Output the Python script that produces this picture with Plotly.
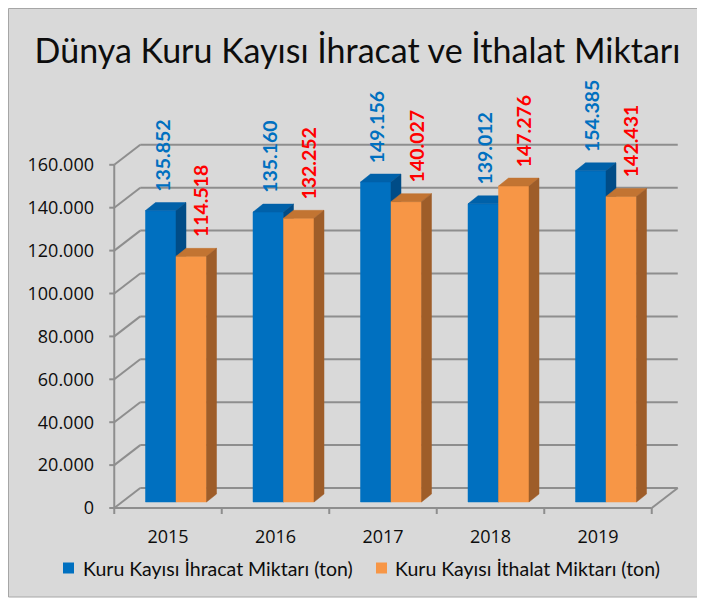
import plotly.graph_objects as go

# ---------------- data ----------------
years = ["2015", "2016", "2017", "2018", "2019"]
ihracat = [135852, 135160, 149156, 139012, 154385]
ithalat = [114518, 132252, 140027, 147276, 142431]
ihracat_labels = ["135.852", "135.160", "149.156", "139.012", "154.385"]
ithalat_labels = ["114.518", "132.252", "140.027", "147.276", "142.431"]
ytick_vals = [0, 20000, 40000, 60000, 80000, 100000, 120000, 140000, 160000]
ytick_text = ["0", "20.000", "40.000", "60.000", "80.000", "100.000", "120.000", "140.000", "160.000"]
series_names = ["Kuru Kayısı İhracat Miktarı (ton)", "Kuru Kayısı İthalat Miktarı (ton)"]
title_text = "Dünya Kuru Kayısı İhracat ve İthalat Miktarı"

# ---------------- pseudo-3D geometry (pixel -> data unit factors) ----------------
CAT_PX = 107.5            # pixels per category
VAL_PX = 42.9 / 20000     # pixels per value unit
UX = 1.0 / CAT_PX         # x units per pixel
UY = 1.0 / VAL_PX         # value units per pixel

FLOOR_DX, FLOOR_DY = 26 * UX, 20 * UY     # depth of the floor / side wall
BAR_X0, BAR_Y0 = 8 * UX, 6 * UY           # bars sit part way into the depth
BAR_W = 30.5 * UX
BAR_DX, BAR_DY = 10 * UX, 8 * UY          # bar depth
XMIN, XMAX = -0.5, len(years) - 0.5
YMAX = ytick_vals[-1]

# plot area in figure pixels (page adds ~8px body margin)
L, R, T, B = 92, 680, 90, 508
W, H = 705, 603
X_FRONT_PX = 160   # pixel of category 0
Y_ZERO_PX = 500    # pixel of value 0 on front plane
xrange = [(L - X_FRONT_PX) * UX, (R - X_FRONT_PX) * UX]
yrange = [(Y_ZERO_PX - B) * UY, (Y_ZERO_PX - T) * UY]

GRID = "#8E8E8E"
FONT = "Lato"
NUMFONT = "Open Sans"
TXT = "#0D0D0D"
SERIES_COLORS = ["#0070C0", "#F79646"]

fig = go.Figure()

# ---------------- walls / gridlines ----------------
gx, gy = [], []
def seg(x0, y0, x1, y1):
    gx.extend([x0, x1, None])
    gy.extend([y0, y1, None])

for v in ytick_vals:
    seg(XMIN + FLOOR_DX, v + FLOOR_DY, XMAX + FLOOR_DX, v + FLOOR_DY)   # back wall
    seg(XMIN, v, XMIN + FLOOR_DX, v + FLOOR_DY)                          # side wall diagonal
    seg(XMIN - 5 * UX, v, XMIN, v)                                       # y tick mark
seg(XMIN, 0, XMIN, YMAX)                       # front vertical axis
seg(XMIN, 0, XMAX, 0)                          # front floor edge
seg(XMAX, 0, XMAX + FLOOR_DX, FLOOR_DY)        # right floor edge
for k in range(len(years) + 1):
    b = XMIN + k
    seg(b, 0, b, -6 * UY)                      # category boundary ticks

fig.add_trace(go.Scatter(x=gx, y=gy, mode="lines", line=dict(color=GRID, width=2),
                         showlegend=False, hoverinfo="skip"))

# ---------------- bars ----------------
def faces(values, left_shift):
    fx, fy, tx, ty, sx, sy = [], [], [], [], [], []
    for i, v in enumerate(values):
        x0 = i + BAR_X0 + left_shift
        x1 = x0 + BAR_W
        y0 = BAR_Y0
        y1 = BAR_Y0 + v
        fx += [x0, x1, x1, x0, x0, None]
        fy += [y0, y0, y1, y1, y0, None]
        tx += [x0, x1, x1 + BAR_DX, x0 + BAR_DX, x0, None]
        ty += [y1, y1, y1 + BAR_DY, y1 + BAR_DY, y1, None]
        sx += [x1, x1 + BAR_DX, x1 + BAR_DX, x1, x1, None]
        sy += [y0, y0 + BAR_DY, y1 + BAR_DY, y1, y0, None]
    return (fx, fy), (tx, ty), (sx, sy)

series = [
    (ihracat, -BAR_W, ["#0070C0", "#0061A9", "#004C87"]),
    (ithalat, 0.0, ["#F79646", "#C27432", "#9E5D29"]),
]
for (values, shift, cols), name in zip(series, series_names):
    for (px_, py_), col in zip(faces(values, shift), cols):
        fig.add_trace(go.Scatter(x=px_, y=py_, mode="lines", fill="toself", name=name,
                                 fillcolor=col, line=dict(color=col, width=0.5),
                                 showlegend=False, hoverinfo="skip"))

# ---------------- value labels ----------------
LBL = 19.5
for i in range(len(years)):
    fig.add_annotation(x=i + BAR_X0 - BAR_W / 2 + 1 * UX, y=BAR_Y0 + ihracat[i] + 17 * UY,
                       text="<b>" + ihracat_labels[i] + "</b>", textangle=-90, showarrow=False,
                       xanchor="center", yanchor="bottom",
                       font=dict(family=FONT, size=LBL, color="#0070C0"))
    fig.add_annotation(x=i + BAR_X0 + BAR_W / 2 + 10 * UX, y=BAR_Y0 + ithalat[i] + 17 * UY,
                       text="<b>" + ithalat_labels[i] + "</b>", textangle=-90, showarrow=False,
                       xanchor="center", yanchor="bottom",
                       font=dict(family=FONT, size=LBL, color="#FF0000"))

# ---------------- background frame + legend ----------------
def paper_x(px):
    return (px - L) / (R - L)
def paper_y(py):
    return (B - py) / (B - T)
fig.add_shape(type="rect", xref="paper", yref="paper", layer="below",
              x0=paper_x(0.5), x1=paper_x(692), y0=paper_y(589), y1=paper_y(0.5),
              fillcolor="#D9D9D9", line=dict(color="#A6A6A6", width=1))

legend_sq_px = [55, 368]
legend_txt_px = [73, 385]
LEG_Y = 560
for name, col, sq, tx in zip(series_names, SERIES_COLORS, legend_sq_px, legend_txt_px):
    fig.add_shape(type="rect", xref="paper", yref="paper", layer="above",
                  x0=paper_x(sq), x1=paper_x(sq + 11), y0=paper_y(LEG_Y + 5.5), y1=paper_y(LEG_Y - 5.5),
                  fillcolor=col, line=dict(width=0))
    fig.add_annotation(xref="paper", yref="paper", x=paper_x(tx), y=paper_y(LEG_Y),
                       xanchor="left", yanchor="middle", showarrow=False, text=name,
                       font=dict(family=FONT, size=19.5, color=TXT))

fig.update_layout(
    width=W, height=H,
    margin=dict(l=L, r=W - R, t=T, b=H - B),
    paper_bgcolor="white", plot_bgcolor="rgba(0,0,0,0)",
    title=dict(text=title_text, x=349.5 / W, xanchor="center", y=1 - 43 / H, yanchor="middle",
               yref="container", xref="container",
               font=dict(family=FONT, size=34, color=TXT)),
    xaxis=dict(range=xrange, tickvals=list(range(len(years))), ticktext=years,
               showgrid=False, zeroline=False, showline=False, ticks="",
               ticklabelstandoff=8,
               tickfont=dict(family=NUMFONT, size=18, color=TXT), fixedrange=True),
    yaxis=dict(range=yrange, tickvals=ytick_vals, ticktext=ytick_text,
               showgrid=False, zeroline=False, showline=False, ticks="",
               ticklabelstandoff=5,
               tickfont=dict(family=NUMFONT, size=18, color=TXT), fixedrange=True),
    hovermode=False,
    showlegend=False,
)

fig.write_html("out.html")
